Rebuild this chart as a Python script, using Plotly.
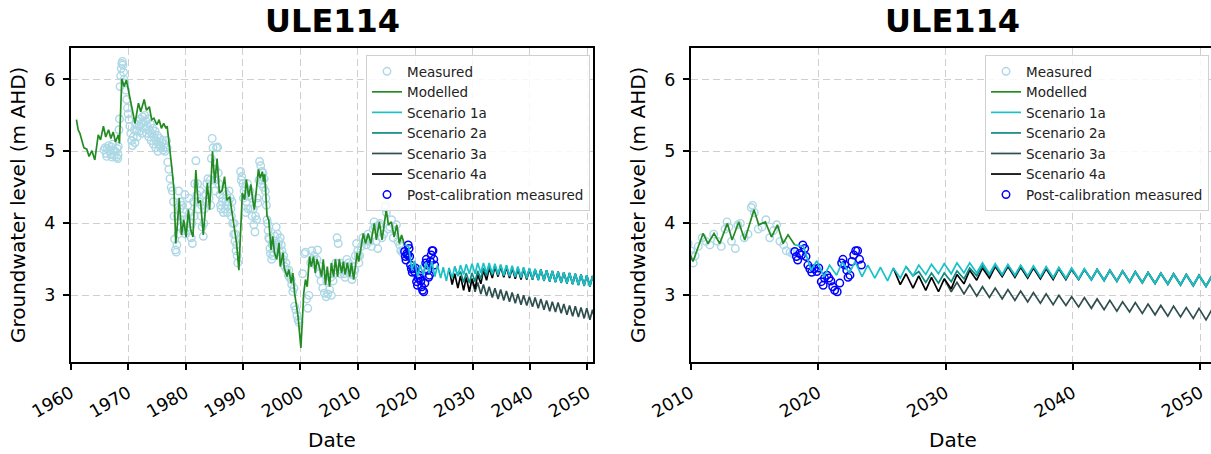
import plotly.graph_objects as go

# ---------------- data (decimal years, m AHD) ----------------
meas_year = [1965.8, 1966.0, 1966.2, 1966.4, 1966.6, 1966.8, 1967.0, 1967.1, 1967.3, 1967.5, 1967.6, 1967.8,
             1968.0, 1968.1, 1968.2, 1968.3, 1968.4, 1968.5, 1968.6, 1968.7, 1968.8, 1968.9, 1969.0, 1969.1,
             1969.2, 1969.3, 1969.45, 1969.6, 1969.75, 1969.9, 1970.0, 1970.15, 1970.3, 1970.45, 1970.6, 1970.75,
             1970.9, 1971.1, 1971.3, 1971.5, 1971.7, 1971.9, 1972.1, 1972.3, 1972.5, 1972.7, 1972.9, 1973.1,
             1973.3, 1973.5, 1973.7, 1973.9, 1974.1, 1974.3, 1974.5, 1974.7, 1974.9, 1975.1, 1975.3, 1975.5,
             1975.7, 1975.9, 1976.1, 1976.3, 1976.5, 1976.7, 1976.9, 1977.1, 1977.3, 1977.5, 1977.7, 1977.9,
             1978.0, 1978.1, 1978.25, 1978.4, 1978.6, 1978.8, 1979.0, 1979.2, 1979.4, 1979.6, 1979.8, 1980.0,
             1980.2, 1980.4, 1980.6, 1980.8, 1981.0, 1981.2, 1981.4, 1981.6, 1981.8, 1982.0, 1982.3, 1982.5,
             1982.7, 1982.9, 1983.1, 1983.3, 1983.5, 1983.7, 1983.9, 1984.1, 1984.3, 1984.5, 1984.65, 1984.8,
             1985.0, 1985.2, 1985.4, 1985.6, 1985.8, 1986.0, 1986.2, 1986.4, 1986.6, 1986.8, 1987.0, 1987.2,
             1987.4, 1987.6, 1987.8, 1988.0, 1988.2, 1988.4, 1988.6, 1988.8, 1989.0, 1989.6, 1989.8, 1990.0,
             1990.2, 1990.4, 1990.6, 1990.8, 1991.0, 1991.3, 1991.6, 1991.9, 1992.1, 1992.4, 1992.6, 1992.9,
             1993.1, 1993.3, 1993.5, 1993.7, 1993.9, 1994.1, 1994.2, 1994.4, 1994.6, 1994.8, 1995.0, 1995.2,
             1995.4, 1995.6, 1995.8, 1996.0, 1996.3, 1996.5, 1996.8, 1997.0, 1997.3, 1997.6, 1997.9, 1998.1,
             1998.4, 1998.7, 1999.0, 1999.2, 1999.4, 1999.6, 1999.8, 2000.4, 2000.7, 2000.9, 2001.1, 2001.3,
             2001.5, 2001.8, 2002.0, 2002.4, 2002.7, 2003.0, 2003.3, 2003.6, 2003.9, 2004.2, 2004.5, 2004.8,
             2005.1, 2005.4, 2005.7, 2006.0, 2006.4, 2006.6, 2006.9, 2007.2, 2007.5, 2007.8, 2008.1, 2008.4,
             2008.7, 2009.0, 2009.3, 2009.6, 2009.8, 2010.0, 2010.1, 2010.2, 2010.35, 2010.6, 2010.9, 2011.2,
             2011.5, 2011.8, 2012.1, 2012.4, 2012.7, 2012.85, 2013.0, 2013.2, 2013.5, 2013.7, 2013.9, 2014.2,
             2014.5, 2014.75, 2014.85, 2015.0, 2015.3, 2015.6, 2015.9, 2016.2, 2016.5, 2016.75, 2017.0, 2017.3,
             2017.5, 2017.8, 2018.0, 2018.1,
             1966.3, 1967.2, 1968.25, 1971.2, 1971.6, 1972.0, 1972.4, 1972.8, 1973.2, 1973.6, 1974.0, 1974.4,
             1974.8, 1975.2, 1975.6, 1976.0, 1976.4, 1976.8, 1978.5, 1978.7, 1979.1, 1979.5, 1979.9, 1980.3,
             1980.7, 1981.1, 1981.5, 1982.1, 1982.4, 1982.8, 1983.2, 1983.6, 1984.0, 1984.4, 1985.1, 1985.3,
             1985.7, 1986.1, 1986.5, 1986.9, 1987.3, 1987.5, 1987.9, 1988.1, 1988.5, 1988.7, 1988.9, 1989.1,
             1989.7, 1990.1, 1990.5, 1990.9, 1991.2, 1991.5, 1991.8, 1992.2, 1992.5, 1992.8, 1993.2, 1993.4,
             1993.6, 1994.0, 1994.3, 1994.5, 1994.7, 1995.1, 1995.3, 1995.7, 1996.1, 1996.4, 1996.7, 1997.1,
             1997.5, 1998.0, 1998.5, 1998.9, 2002.2, 2002.9, 2003.5, 2004.0, 2004.6, 2005.3, 2005.9, 2006.2,
             2007.0, 2007.6, 2008.0, 2008.6, 2009.1, 2009.5]
meas_level = [5.02, 5.05, 4.97, 5.04, 5.08, 5.00, 4.96, 5.06, 5.10, 5.02, 4.94, 5.00,
              4.92, 5.04, 4.90, 5.07, 5.30, 5.45, 5.90, 6.05, 6.15, 6.22, 6.25, 6.20,
              6.10, 6.00, 5.95, 5.85, 5.72, 5.60, 5.52, 5.44, 5.35, 5.25, 5.15, 5.08,
              5.20, 5.30, 5.38, 5.28, 5.42, 5.35, 5.45, 5.38, 5.48, 5.40, 5.50, 5.42,
              5.35, 5.45, 5.30, 5.38, 5.25, 5.32, 5.20, 5.28, 5.15, 5.22, 5.10, 5.18,
              5.05, 5.12, 5.02, 5.10, 5.05, 5.15, 4.85, 4.75, 4.62, 4.50, 4.45, 4.30,
              4.10, 3.78, 3.63, 3.60, 4.10, 4.45, 4.20, 3.95, 4.10, 3.90, 4.05, 3.85,
              4.05, 4.25, 4.35, 3.95, 3.80, 3.72, 4.30, 4.55, 4.87, 4.40, 4.20, 4.45,
              4.10, 3.95, 3.82, 4.20, 4.40, 4.55, 4.62, 4.35, 4.60, 4.90, 5.18, 5.05,
              4.60, 4.75, 5.05, 5.06, 4.55, 4.40, 4.20, 4.30, 4.15, 4.45, 4.30, 4.40,
              4.25, 4.45, 4.35, 4.10, 4.00, 3.85, 3.75, 3.62, 3.55, 4.72, 4.65, 4.55,
              4.45, 4.50, 4.30, 4.55, 4.38, 4.20, 4.10, 3.98, 3.88, 4.05, 4.28, 4.86,
              4.80, 4.72, 4.70, 4.62, 4.45, 4.25, 4.05, 3.90, 3.78, 3.58, 3.50, 3.55,
              3.70, 3.82, 3.95, 3.85, 3.75, 3.80, 3.62, 3.50, 3.40, 3.36, 3.28, 3.25,
              3.22, 3.05, 2.85, 2.80, 2.72, 2.66, 2.62, 3.30, 3.58, 3.60, 2.95, 2.82,
              3.00, 3.45, 3.62, 3.55, 3.42, 3.63, 3.30, 3.20, 3.10, 3.03, 2.98, 3.02,
              3.08, 3.00, 3.20, 3.35, 3.80, 3.72, 3.45, 3.35, 3.40, 3.25, 3.50, 3.45,
              3.35, 3.22, 3.28, 3.55, 3.72, 3.62, 3.55, 3.45, 3.55, 3.68, 3.80, 3.75,
              3.70, 3.85, 3.75, 3.68, 3.92, 4.02, 3.95, 3.75, 3.65, 3.98, 4.00, 3.80,
              3.85, 4.22, 4.25, 4.15, 3.92, 3.95, 4.05, 3.80, 3.90, 3.98, 3.75, 3.70,
              3.62, 3.60, 3.58, 3.60,
              4.93, 4.92, 4.95, 5.12, 5.20, 5.28, 5.25, 5.32, 5.25, 5.20, 5.15, 5.10,
              5.05, 5.00, 5.08, 5.15, 5.00, 5.05, 3.70, 3.85, 4.30, 4.25, 4.40, 3.90,
              4.15, 4.00, 4.10, 4.55, 4.30, 4.25, 4.00, 4.30, 4.45, 4.25, 4.45, 4.60,
              4.70, 4.25, 4.35, 4.20, 4.15, 4.30, 4.20, 4.30, 4.00, 3.85, 3.70, 3.45,
              4.60, 4.35, 4.15, 4.20, 4.45, 4.35, 4.20, 4.10, 4.35, 4.60, 4.55, 4.60,
              4.50, 4.35, 4.00, 3.80, 3.65, 3.70, 3.60, 3.75, 3.70, 3.60, 3.70, 3.55,
              3.45, 3.35, 3.15, 3.10, 3.50, 3.50, 3.40, 3.30, 3.20, 3.25, 3.30, 3.45,
              3.30, 3.30, 3.40, 3.30, 3.40, 3.35]

mod_year = [1961.0, 1961.3, 1961.6, 1962.0, 1962.3, 1962.8, 1963.2, 1963.7, 1964.2, 1964.8, 1965.2, 1965.7,
            1966.1, 1966.6, 1967.0, 1967.4, 1967.8, 1968.3, 1968.5, 1968.9, 1969.3, 1969.7, 1970.3, 1970.8,
            1971.2, 1971.8, 1972.2, 1972.8, 1973.2, 1973.7, 1974.1, 1974.5, 1975.0, 1975.4, 1975.8, 1976.2,
            1976.6, 1976.8, 1977.3, 1977.6, 1978.0, 1978.3, 1978.6, 1978.9, 1979.3, 1979.7, 1980.1, 1980.5,
            1980.9, 1981.3, 1981.8, 1982.2, 1982.6, 1983.1, 1983.5, 1983.8, 1984.2, 1984.7, 1985.1, 1985.5,
            1985.9, 1986.4, 1986.8, 1987.2, 1987.7, 1988.2, 1988.6, 1988.9, 1989.3, 1989.6, 1989.9, 1990.3,
            1990.6, 1991.0, 1991.4, 1991.7, 1992.0, 1992.4, 1992.7, 1993.0, 1993.4, 1993.6, 1993.8, 1994.2,
            1994.5, 1994.9, 1995.2, 1995.5, 1995.9, 1996.3, 1996.5, 1997.0, 1997.2, 1997.7, 1998.0, 1998.4,
            1998.7, 1999.0, 1999.3, 1999.6, 2000.1, 2000.6, 2000.9, 2001.2, 2001.6, 2001.9, 2002.3, 2002.6,
            2002.9, 2003.3, 2003.7, 2004.0, 2004.4, 2004.7, 2005.1, 2005.4, 2005.8, 2006.1, 2006.5, 2006.8,
            2007.2, 2007.5, 2007.8, 2008.2, 2008.6, 2008.9, 2009.3, 2009.9, 2010.18, 2010.97, 2011.36, 2011.83,
            2012.28, 2012.88, 2013.25, 2013.77, 2014.24, 2014.97, 2015.34, 2015.86, 2016.34, 2016.81, 2017.25,
            2017.64, 2018.17]
mod_level = [5.44, 5.30, 5.25, 5.12, 5.05, 5.03, 4.93, 5.01, 4.88, 5.23, 5.16, 5.35,
             5.20, 5.30, 5.18, 5.27, 5.13, 5.23, 5.11, 6.01, 5.90, 5.99, 5.76, 5.57,
             5.39, 5.67, 5.55, 5.72, 5.57, 5.62, 5.44, 5.46, 5.37, 5.44, 5.32, 5.39,
             5.32, 5.35, 5.02, 4.79, 4.46, 3.72, 4.00, 4.35, 3.84, 4.05, 3.81, 4.19,
             3.91, 3.81, 4.74, 4.28, 4.32, 3.84, 4.23, 4.56, 4.19, 5.00, 4.56, 4.90,
             4.42, 4.46, 4.65, 4.32, 4.37, 4.09, 3.91, 3.72, 3.35, 3.91, 4.42, 4.33,
             4.61, 4.37, 4.54, 4.33, 4.19, 4.51, 4.75, 4.63, 4.72, 4.58, 4.68, 4.10,
             4.05, 3.63, 3.82, 3.59, 3.50, 3.73, 3.40, 3.59, 3.38, 3.26, 3.36, 3.17,
             3.31, 3.03, 2.85, 2.71, 2.27, 3.03, 3.22, 3.12, 3.54, 3.40, 3.54, 3.31,
             3.50, 3.40, 3.26, 3.50, 3.15, 3.40, 3.12, 3.45, 3.26, 3.50, 3.26, 3.50,
             3.31, 3.47, 3.29, 3.45, 3.26, 3.45, 3.22, 3.59, 3.47, 3.86, 3.72, 3.86,
             3.72, 4.00, 3.77, 4.02, 3.77, 4.19, 3.98, 4.02, 3.81, 3.98, 3.72,
             3.84, 3.70]

s1_year = [2018.17, 2018.85, 2019.45, 2019.9, 2020.45, 2020.9, 2021.45, 2021.9, 2022.45, 2022.9,
           2023.45, 2023.9, 2024.45, 2024.9, 2025.45, 2025.9, 2026.45, 2026.9, 2027.45, 2027.9,
           2028.45, 2028.9, 2029.45, 2029.9, 2030.45, 2030.9, 2031.45, 2031.9, 2032.45, 2032.9,
           2033.45, 2033.9, 2034.45, 2034.9, 2035.45, 2035.9, 2036.45, 2036.9, 2037.45, 2037.9,
           2038.45, 2038.9, 2039.45, 2039.9, 2040.45, 2040.9, 2041.45, 2041.9, 2042.45, 2042.9,
           2043.45, 2043.9, 2044.45, 2044.9, 2045.45, 2045.9, 2046.45, 2046.9, 2047.45, 2047.9,
           2048.45, 2048.9, 2049.45, 2049.9, 2050.45, 2050.9, 2051.4]
s1_level = [3.70, 3.68, 3.35, 3.48, 3.26, 3.42, 3.28, 3.46, 3.31, 3.47,
            3.26, 3.42, 3.24, 3.39, 3.20, 3.38, 3.24, 3.40, 3.27, 3.42,
            3.29, 3.43, 3.30, 3.44, 3.30, 3.45, 3.31, 3.45, 3.31, 3.45,
            3.30, 3.44, 3.29, 3.43, 3.28, 3.42, 3.27, 3.41, 3.26, 3.40,
            3.25, 3.39, 3.24, 3.38, 3.23, 3.37, 3.22, 3.36, 3.21, 3.35,
            3.20, 3.34, 3.19, 3.33, 3.18, 3.32, 3.17, 3.31, 3.16, 3.30,
            3.15, 3.29, 3.14, 3.28, 3.13, 3.27, 3.12]

s2_year = [2026.9, 2027.45, 2027.9, 2028.45, 2028.9, 2029.45, 2029.9, 2030.45, 2030.9, 2031.45,
           2031.9, 2032.45, 2032.9, 2033.45, 2033.9, 2034.45, 2034.9, 2035.45, 2035.9, 2036.45,
           2036.9, 2037.45, 2037.9, 2038.45, 2038.9, 2039.45, 2039.9, 2040.45, 2040.9, 2041.45,
           2041.9, 2042.45, 2042.9, 2043.45, 2043.9, 2044.45, 2044.9, 2045.45, 2045.9, 2046.45,
           2046.9, 2047.45, 2047.9, 2048.45, 2048.9, 2049.45, 2049.9, 2050.45, 2050.9, 2051.4]
s2_level = [3.40, 3.27, 3.33, 3.18, 3.31, 3.17, 3.31, 3.19, 3.34, 3.23,
            3.38, 3.27, 3.41, 3.28, 3.42, 3.28, 3.42, 3.27, 3.41, 3.26,
            3.40, 3.25, 3.39, 3.24, 3.38, 3.23, 3.37, 3.22, 3.36, 3.21,
            3.35, 3.20, 3.34, 3.19, 3.33, 3.18, 3.32, 3.17, 3.31, 3.16,
            3.30, 3.15, 3.29, 3.14, 3.28, 3.13, 3.27, 3.12, 3.26, 3.11]

s3_year = [2029.9, 2030.45, 2030.9, 2031.45, 2031.9, 2032.45, 2032.9, 2033.45, 2033.9, 2034.45,
           2034.9, 2035.45, 2035.9, 2036.45, 2036.9, 2037.45, 2037.9, 2038.45, 2038.9, 2039.45,
           2039.9, 2040.45, 2040.9, 2041.45, 2041.9, 2042.45, 2042.9, 2043.45, 2043.9, 2044.45,
           2044.9, 2045.45, 2045.9, 2046.45, 2046.9, 2047.45, 2047.9, 2048.45, 2048.9, 2049.45,
           2049.9, 2050.45, 2050.9, 2051.4]
s3_level = [3.23, 3.05, 3.18, 3.02, 3.15, 2.99, 3.12, 2.97, 3.10, 2.95,
            3.08, 2.93, 3.06, 2.91, 3.04, 2.89, 3.02, 2.87, 3.00, 2.86,
            2.98, 2.84, 2.97, 2.82, 2.95, 2.80, 2.93, 2.78, 2.91, 2.77,
            2.90, 2.75, 2.88, 2.73, 2.86, 2.71, 2.85, 2.70, 2.83, 2.68,
            2.82, 2.66, 2.80, 2.64]

s4_year = [2025.9, 2026.45, 2026.9, 2027.45, 2027.9, 2028.45, 2028.9, 2029.45, 2029.9, 2030.45,
           2030.9, 2031.45, 2031.9, 2032.45, 2032.9, 2033.45, 2033.9, 2034.45, 2034.9, 2035.45,
           2035.9, 2036.45, 2036.9, 2037.45, 2037.9, 2038.45, 2038.9, 2039.45, 2039.9, 2040.45,
           2040.9, 2041.45, 2041.9, 2042.45, 2042.9, 2043.45, 2043.9, 2044.45, 2044.9, 2045.45,
           2045.9, 2046.45, 2046.9, 2047.45, 2047.9, 2048.45, 2048.9, 2049.45, 2049.9, 2050.45,
           2050.9, 2051.4]
s4_level = [3.38, 3.15, 3.30, 3.10, 3.27, 3.07, 3.25, 3.05, 3.23, 3.09,
            3.29, 3.16, 3.35, 3.21, 3.38, 3.24, 3.40, 3.26, 3.40, 3.25,
            3.39, 3.24, 3.38, 3.23, 3.37, 3.22, 3.37, 3.22, 3.36, 3.22,
            3.36, 3.22, 3.36, 3.21, 3.35, 3.20, 3.34, 3.19, 3.33, 3.18,
            3.32, 3.17, 3.31, 3.16, 3.30, 3.15, 3.29, 3.14, 3.28, 3.13,
            3.27, 3.12]

post_year = [2018.17, 2018.3, 2018.4, 2018.55, 2018.7, 2018.8, 2018.95, 2019.05, 2019.2, 2019.35,
             2019.5, 2019.7, 2019.9, 2020.05, 2020.25, 2020.4, 2020.5, 2020.7, 2020.85, 2021.0,
             2021.15, 2021.3, 2021.5, 2021.7, 2021.85, 2021.95, 2022.1, 2022.25, 2022.35, 2022.5,
             2022.65, 2022.8, 2022.95, 2023.1, 2023.25, 2023.4]
post_level = [3.61, 3.54, 3.49, 3.58, 3.56, 3.70, 3.65, 3.54, 3.42, 3.37,
              3.32, 3.37, 3.33, 3.38, 3.19, 3.14, 3.24, 3.28, 3.24, 3.20,
              3.12, 3.07, 3.05, 3.17, 3.45, 3.50, 3.42, 3.35, 3.25, 3.28,
              3.47, 3.56, 3.62, 3.62, 3.50, 3.42]

title_text = "ULE114"
y_title = "Groundwater level (m AHD)"
x_title = "Date"
left_ticks = [1960, 1970, 1980, 1990, 2000, 2010, 2020, 2030, 2040, 2050]
right_ticks = [2010, 2020, 2030, 2040, 2050]
y_ticks = [3, 4, 5, 6]

# ---------------- styling ----------------
FONT = "DejaVu Sans"
W, H = 1211, 454
C_MEAS = "#add8e6"
C_MOD = "#228b22"
C_S1 = "#1cc0c8"
C_S2 = "#0f8a82"
C_S3 = "#2f4f4f"
C_S4 = "#000000"
C_POST = "#0000ff"

fig = go.Figure()


def add_panel(xa, ya, leg):
    common = dict(xaxis=xa, yaxis=ya, legend=leg)
    fig.add_trace(go.Scatter(x=meas_year, y=meas_level, mode="markers", name="Measured",
                             marker=dict(symbol="circle-open", size=7.5, color=C_MEAS, line=dict(width=1.4)),
                             legendrank=1, **common))
    fig.add_trace(go.Scatter(x=mod_year, y=mod_level, mode="lines", name="Modelled",
                             line=dict(color=C_MOD, width=1.7), legendrank=2, **common))
    fig.add_trace(go.Scatter(x=post_year, y=post_level, mode="markers", name="Post-calibration measured",
                             marker=dict(symbol="circle-open", size=7.5, color=C_POST, line=dict(width=1.5)),
                             legendrank=7, **common))
    fig.add_trace(go.Scatter(x=s3_year, y=s3_level, mode="lines", name="Scenario 3a",
                             line=dict(color=C_S3, width=1.7), legendrank=5, **common))
    fig.add_trace(go.Scatter(x=s4_year, y=s4_level, mode="lines", name="Scenario 4a",
                             line=dict(color=C_S4, width=1.7), legendrank=6, **common))
    fig.add_trace(go.Scatter(x=s2_year, y=s2_level, mode="lines", name="Scenario 2a",
                             line=dict(color=C_S2, width=1.7), legendrank=4, **common))
    fig.add_trace(go.Scatter(x=s1_year, y=s1_level, mode="lines", name="Scenario 1a",
                             line=dict(color=C_S1, width=1.7), legendrank=3, **common))


add_panel("x", "y", "legend")
add_panel("x2", "y2", "legend2")

px_x = lambda p: p / W
px_y = lambda p: (H - p) / H

axis_common = dict(
    showline=True, linecolor="black", linewidth=1.5, automargin=False,
    ticks="outside", ticklen=6, tickwidth=1.5, tickcolor="black",
    showgrid=True, gridcolor="#cfcfcf", gridwidth=1.4, griddash="7px,4px",
    zeroline=False, tickfont=dict(family=FONT, size=17.5, color="black"),
)

ydom = [px_y(362.3), px_y(47.7)]
fig.update_layout(
    width=W, height=H, margin=dict(l=0, r=0, t=0, b=0, autoexpand=False),
    paper_bgcolor="white", plot_bgcolor="white",
    font=dict(family=FONT, color="black"),
    xaxis=dict(domain=[px_x(70.7), px_x(593.3)], range=[1960, 2051.04], anchor="y",
               tickvals=left_ticks, ticktext=[str(t) for t in left_ticks], tickangle=-30,
               mirror=True, ticklabelstandoff=6, **axis_common),
    yaxis=dict(domain=ydom, range=[2.07, 6.44], anchor="x", tickvals=y_ticks,
               ticktext=[str(t) for t in y_ticks], mirror=True, ticklabelstandoff=4, **axis_common),
    xaxis2=dict(domain=[px_x(690.7), 1.0], range=[2010, 2050.84], anchor="y2",
                tickvals=right_ticks, ticktext=[str(t) for t in right_ticks], tickangle=-30,
                mirror=True, ticklabelstandoff=6, **axis_common),
    yaxis2=dict(domain=ydom, range=[2.07, 6.44], anchor="x2", tickvals=y_ticks,
                ticktext=[str(t) for t in y_ticks], mirror=False, ticklabelstandoff=4, **axis_common),
    legend=dict(x=px_x(590), xanchor="right", y=px_y(55), yanchor="top",
                bgcolor="rgba(255,255,255,0.85)", bordercolor="#d0d0d0", borderwidth=1,
                font=dict(family=FONT, size=13.5, color="#222222"), traceorder="normal"),
    legend2=dict(x=px_x(985), xanchor="left", y=px_y(55), yanchor="top",
                 bgcolor="rgba(255,255,255,0.85)", bordercolor="#d0d0d0", borderwidth=1,
                 font=dict(family=FONT, size=13.5, color="#222222"), traceorder="normal"),
    annotations=[
        dict(text="<b>%s</b>" % title_text, x=px_x(332), y=px_y(21), xref="paper", yref="paper",
             showarrow=False, font=dict(family=FONT, size=32, color="black"), xanchor="center", yanchor="middle"),
        dict(text="<b>%s</b>" % title_text, x=px_x(952), y=px_y(21), xref="paper", yref="paper",
             showarrow=False, font=dict(family=FONT, size=32, color="black"), xanchor="center", yanchor="middle"),
        dict(text=x_title, x=px_x(332), y=px_y(440), xref="paper", yref="paper", showarrow=False,
             font=dict(family=FONT, size=20, color="black"), xanchor="center", yanchor="middle"),
        dict(text=x_title, x=px_x(953), y=px_y(440), xref="paper", yref="paper", showarrow=False,
             font=dict(family=FONT, size=20, color="black"), xanchor="center", yanchor="middle"),
        dict(text=y_title, x=px_x(18), y=px_y(205), xref="paper", yref="paper", showarrow=False,
             textangle=-90, font=dict(family=FONT, size=20, color="black"), xanchor="center", yanchor="middle"),
        dict(text=y_title, x=px_x(638), y=px_y(205), xref="paper", yref="paper", showarrow=False,
             textangle=-90, font=dict(family=FONT, size=20, color="black"), xanchor="center", yanchor="middle"),
    ],
)

fig.write_html("out.html", config={"displayModeBar": False},
               post_script="document.body.style.margin='0';document.body.style.padding='0';"
                           "document.documentElement.style.overflow='hidden';")
